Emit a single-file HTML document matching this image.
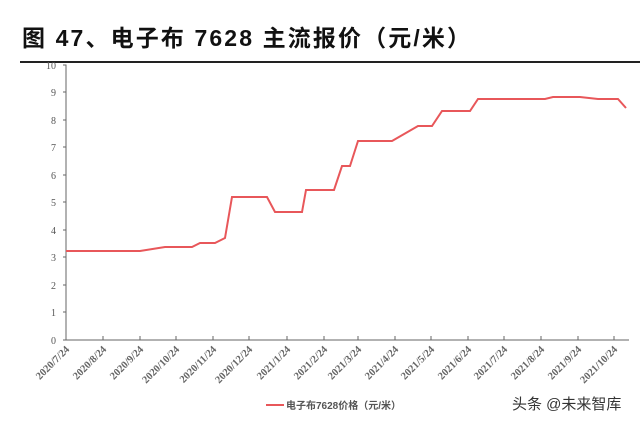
<!DOCTYPE html>
<html><head><meta charset="utf-8"><style>
body{margin:0;background:#fff;width:640px;height:423px;overflow:hidden}
</style></head><body>
<svg width="640" height="423" xmlns="http://www.w3.org/2000/svg">
<text x="22" y="46" textLength="448" lengthAdjust="spacing" font-family="'Liberation Sans','Noto Sans CJK SC',sans-serif" font-size="23" font-weight="bold" fill="#111">图 47、电子布 7628 主流报价（元/米）</text>
<line x1="20" y1="62" x2="640" y2="62" stroke="#222" stroke-width="2"/>
<g font-family="'Liberation Serif',serif" font-size="10" fill="#555" text-anchor="end">
<text x="56" y="69">10</text><text x="56" y="96">9</text><text x="56" y="124">8</text><text x="56" y="151">7</text><text x="56" y="179">6</text><text x="56" y="206">5</text><text x="56" y="234">4</text><text x="56" y="261">3</text><text x="56" y="289">2</text><text x="56" y="316">1</text><text x="56" y="344">0</text>
</g>
<g stroke="#666" stroke-width="1" fill="none">
<path d="M63 65H66V340H629"/>
<path d="M66 92h-3M66 120h-3M66 147h-3M66 175h-3M66 202h-3M66 230h-3M66 257h-3M66 285h-3M66 312h-3M66 340h-3"/>
<path d="M103 340v-4M140 340v-4M176 340v-4M213 340v-4M249 340v-4M287 340v-4M324 340v-4M358 340v-4M395 340v-4M431 340v-4M468 340v-4M504 340v-4M541 340v-4M578 340v-4M614 340v-4"/>
</g>
<g font-family="'Liberation Serif',serif" font-size="10.5" font-weight="bold" fill="#666">
<text transform="translate(70,350) rotate(-45)" text-anchor="end">2020/7/24</text>
<text transform="translate(107,350) rotate(-45)" text-anchor="end">2020/8/24</text>
<text transform="translate(144,350) rotate(-45)" text-anchor="end">2020/9/24</text>
<text transform="translate(180,350) rotate(-45)" text-anchor="end">2020/10/24</text>
<text transform="translate(217,350) rotate(-45)" text-anchor="end">2020/11/24</text>
<text transform="translate(253,350) rotate(-45)" text-anchor="end">2020/12/24</text>
<text transform="translate(291,350) rotate(-45)" text-anchor="end">2021/1/24</text>
<text transform="translate(328,350) rotate(-45)" text-anchor="end">2021/2/24</text>
<text transform="translate(362,350) rotate(-45)" text-anchor="end">2021/3/24</text>
<text transform="translate(399,350) rotate(-45)" text-anchor="end">2021/4/24</text>
<text transform="translate(435,350) rotate(-45)" text-anchor="end">2021/5/24</text>
<text transform="translate(472,350) rotate(-45)" text-anchor="end">2021/6/24</text>
<text transform="translate(508,350) rotate(-45)" text-anchor="end">2021/7/24</text>
<text transform="translate(545,350) rotate(-45)" text-anchor="end">2021/8/24</text>
<text transform="translate(582,350) rotate(-45)" text-anchor="end">2021/9/24</text>
<text transform="translate(618,350) rotate(-45)" text-anchor="end">2021/10/24</text>
</g>
<polyline fill="none" stroke="#e8575a" stroke-width="2" points="66,251 140,251 165,247 192,247 200,243 215,243 225,238 232,197 267,197 275,212 302,212 306,190 334,190 342,166 350,166 358,141 392,141 418,126 432,126 442,111 470,111 478,99 545,99 553,97 580,97 598,99 618,99 626,108"/>
<line x1="266" y1="405" x2="284" y2="405" stroke="#e8575a" stroke-width="2"/>
<text x="286" y="409" font-family="'Liberation Sans','Noto Sans CJK SC',sans-serif" font-size="10" font-weight="bold" fill="#555">电子布7628价格（元/米）</text>
<text x="512" y="409" font-family="'Liberation Sans','Noto Sans CJK SC',sans-serif" font-size="15" fill="#333">头条 @未来智库</text>
</svg>
</body></html>
